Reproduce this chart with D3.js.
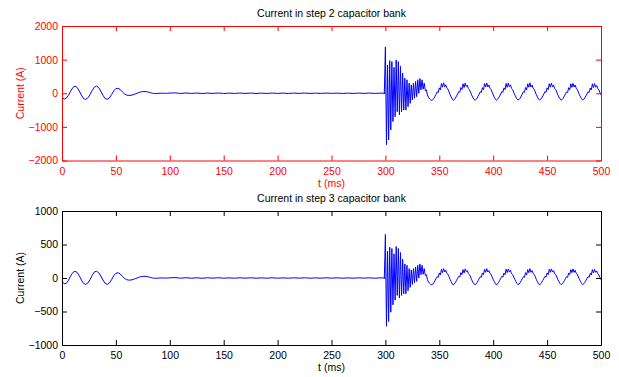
<!DOCTYPE html>
<html>
<head>
<meta charset="utf-8">
<script src="https://cdn.jsdelivr.net/npm/d3@7"></script>
<style>
  html, body { margin: 0; padding: 0; background: #fff; }
  svg { display: block; font-family: "Liberation Sans", Arial, sans-serif; }
</style>
</head>
<body>
<svg id="chart" width="619" height="377"></svg>
<script>
// ---- data (currents in A) ----
const xTicks = [0, 50, 100, 150, 200, 250, 300, 350, 400, 450, 500];
const yTicksStep2 = [-2000, -1000, 0, 1000, 2000];
const yTicksStep3 = [-1000, -500, 0, 500, 1000];

// 0..100 ms, sampled every 2 ms : energising transient of the first banks
const earlyStart = 0, earlyStep = 2;
const earlyStep2 = [-120, -175, -150, -60, 60, 165, 215, 175, 70, -55, -160, -180, -140, -40, 80, 180, 215, 170, 60, -60,
  -160, -180, -140, -40, 70, 140, 148, 110, 40, -20, -55, -65, -60, -45, -20, 5, 30, 45, 50, 48,
  35, 15, 0, -8, -5, 0, 2, 0, -2, 0, 5];
const earlyStep3 = [-50, -85, -80, -35, 30, 80, 100, 85, 35, -30, -80, -95, -75, -25, 40, 90, 102, 80, 30, -30,
  -80, -95, -75, -25, 35, 70, 78, 60, 25, -5, -25, -32, -30, -22, -10, 3, 15, 22, 25, 24,
  18, 8, 0, -4, -3, 0, 1, 0, -1, 0, 3];

// 100..300 ms, sampled every 5 ms : steady, almost zero
const quietStart = 100, quietStep = 5;
const quietStep2 = [5, 12, -6, 8, -5, 6, -7, 5, -4, 7, -6, 4, -5, 6, -4, 5, -6, 4, -5, 6,
  -5, 4, -6, 5, -4, 6, -5, 4, -5, 6, -4, 5, -6, 4, -5, 5, -4, 6, -5, 4, 0];
const quietStep3 = [3, 6, -3, 4, -3, 3, -4, 3, -2, 4, -3, 2, -3, 3, -2, 3, -3, 2, -3, 3,
  -3, 2, -3, 3, -2, 3, -3, 2, -3, 3, -2, 3, -3, 2, -3, 3, -2, 3, -3, 2, 0];

// 299..500 ms, sampled every 1 ms : switching of the bank at 300 ms
const switchStart = 299, switchStep = 1;
const switchStep2 = [0,
  1380, -1530, 840, -1390, 970, -1090, 940, -840, 770, -700, 990, -550, 940, -640, 800, -550, 600, -500, 450, -500,
  400, -400, 300, -300, 250, -200, 300, -150, 350, -100, 400, 0, 440, 100, 400, 120, 300, 80, 100, -50,
  -120, -170, -200, -210,
  -190, -150, -90, -30, 40, 20, 160, 100, 290, 180, 310, 190, 250, 150, 120, 40, -40, -110, -170, -210,
  -185, -140, -80, -20, 50, 30, 170, 110, 280, 170, 300, 200, 240, 140, 110, 30, -50, -120, -175, -205,
  -190, -150, -85, -25, 45, 25, 165, 105, 285, 185, 305, 190, 245, 150, 115, 35, -45, -115, -170, -210,
  -180, -140, -80, -20, 50, 30, 160, 110, 290, 175, 300, 195, 250, 145, 110, 30, -45, -110, -165, -200,
  -185, -145, -85, -25, 45, 25, 170, 100, 280, 180, 310, 185, 245, 150, 120, 40, -40, -110, -170, -205,
  -180, -140, -80, -20, 50, 30, 160, 110, 285, 180, 300, 190, 240, 140, 110, 30, -50, -115, -170, -200,
  -185, -145, -85, -25, 40, 20, 165, 105, 280, 175, 295, 185, 245, 150, 115, 35, -45, -110, -165, -200,
  -180, -140, -80, -20, 45, 25, 155, 100, 280, 170, 290, 180, 230, 140, 100, 20, -50];
const switchStep3 = [0,
  650, -720, 400, -650, 460, -510, 440, -400, 360, -330, 470, -260, 440, -300, 380, -260, 280, -235, 210, -235,
  190, -190, 140, -140, 120, -95, 140, -70, 165, -50, 190, 0, 210, 50, 190, 55, 140, 40, 50, -25,
  -60, -80, -95, -100,
  -90, -70, -40, -10, 20, 10, 75, 45, 130, 80, 140, 90, 115, 70, 55, 20, -20, -55, -85, -105,
  -90, -65, -35, -5, 25, 15, 80, 50, 125, 75, 135, 95, 110, 65, 50, 15, -25, -60, -85, -100,
  -90, -70, -40, -10, 20, 10, 75, 50, 130, 85, 140, 90, 110, 70, 55, 15, -20, -55, -80, -105,
  -85, -65, -35, -5, 25, 15, 75, 50, 130, 80, 135, 90, 115, 65, 50, 15, -20, -50, -80, -100,
  -90, -70, -40, -10, 20, 10, 80, 45, 125, 80, 140, 85, 110, 70, 55, 20, -20, -55, -85, -105,
  -85, -65, -35, -5, 25, 15, 75, 50, 130, 85, 135, 90, 110, 65, 50, 15, -25, -55, -80, -100,
  -90, -70, -40, -10, 20, 10, 75, 50, 125, 80, 135, 85, 115, 70, 55, 15, -20, -50, -80, -100,
  -85, -65, -35, -5, 20, 10, 70, 45, 125, 75, 130, 85, 105, 65, 45, 10, -25];

// turn a uniformly sampled segment into [t, i] pairs
const samples = (start, step, values) => values.map((v, k) => [start + k * step, v]);

const svg = d3.select('#chart');
svg.append('rect').attr('width', 619).attr('height', 377).attr('fill', '#fff');

const left = 62, right = 601;
const x = d3.scaleLinear().domain([0, 500]).range([left, right]);

function drawPanel(top, bottom, yDomain, yTicks, series, colour, title) {
  const y = d3.scaleLinear().domain(yDomain).range([bottom, top]);
  const g = svg.append('g');

  // signal
  g.append('path')
    .datum(series)
    .attr('fill', 'none')
    .attr('stroke', '#0000ff')
    .attr('stroke-width', 1)
    .attr('stroke-linejoin', 'miter')
    .attr('d', d3.line().x(d => x(d[0])).y(d => y(d[1])));

  // box with inward ticks on all four sides
  const axes = [
    [d3.axisBottom(x).tickValues(xTicks).tickFormat(d3.format('d')), `translate(0,${bottom})`],
    [d3.axisTop(x).tickValues(xTicks).tickFormat(''), `translate(0,${top})`],
    [d3.axisLeft(y).tickValues(yTicks).tickFormat(d3.format('d')), `translate(${left},0)`],
    [d3.axisRight(y).tickValues(yTicks).tickFormat(''), `translate(${right},0)`]
  ];
  axes.forEach(([ax, tr], k) => {
    const a = g.append('g')
      .attr('transform', tr)
      .call(ax.tickSizeInner(-5).tickSizeOuter(0).tickPadding(k === 2 ? 4 : 7));
    a.select('.domain').attr('stroke', colour).attr('stroke-width', 1);
    a.selectAll('.tick line').attr('stroke', colour);
    a.selectAll('.tick text')
      .attr('fill', colour)
      .style('font-size', '10.5px')
      .style('font-family', '"Liberation Sans", Arial, sans-serif');
    a.attr('font-size', null).attr('font-family', null);
  });

  g.append('text')
    .attr('x', (left + right) / 2)
    .attr('y', top - 9)
    .attr('text-anchor', 'middle')
    .style('font-size', '10.5px')
    .attr('fill', '#000')
    .text(title);

  g.append('text')
    .attr('x', (left + right) / 2)
    .attr('y', bottom + 26)
    .attr('text-anchor', 'middle')
    .style('font-size', '10.5px')
    .attr('fill', colour)
    .text('t (ms)');

  g.append('text')
    .attr('transform', `translate(24,${(top + bottom) / 2}) rotate(-90)`)
    .attr('text-anchor', 'middle')
    .style('font-size', '10.5px')
    .attr('fill', colour)
    .text('Current (A)');
}

const seriesStep2 = [
  ...samples(earlyStart, earlyStep, earlyStep2),
  ...samples(quietStart, quietStep, quietStep2).slice(1),
  ...samples(switchStart, switchStep, switchStep2)
];
const seriesStep3 = [
  ...samples(earlyStart, earlyStep, earlyStep3),
  ...samples(quietStart, quietStep, quietStep3).slice(1),
  ...samples(switchStart, switchStep, switchStep3)
];

drawPanel(26, 160.5, [-2000, 2000], yTicksStep2, seriesStep2, '#ff0000', 'Current in step 2 capacitor bank');
drawPanel(211, 345, [-1000, 1000], yTicksStep3, seriesStep3, '#000000', 'Current in step 3 capacitor bank');
</script>
</body>
</html>
